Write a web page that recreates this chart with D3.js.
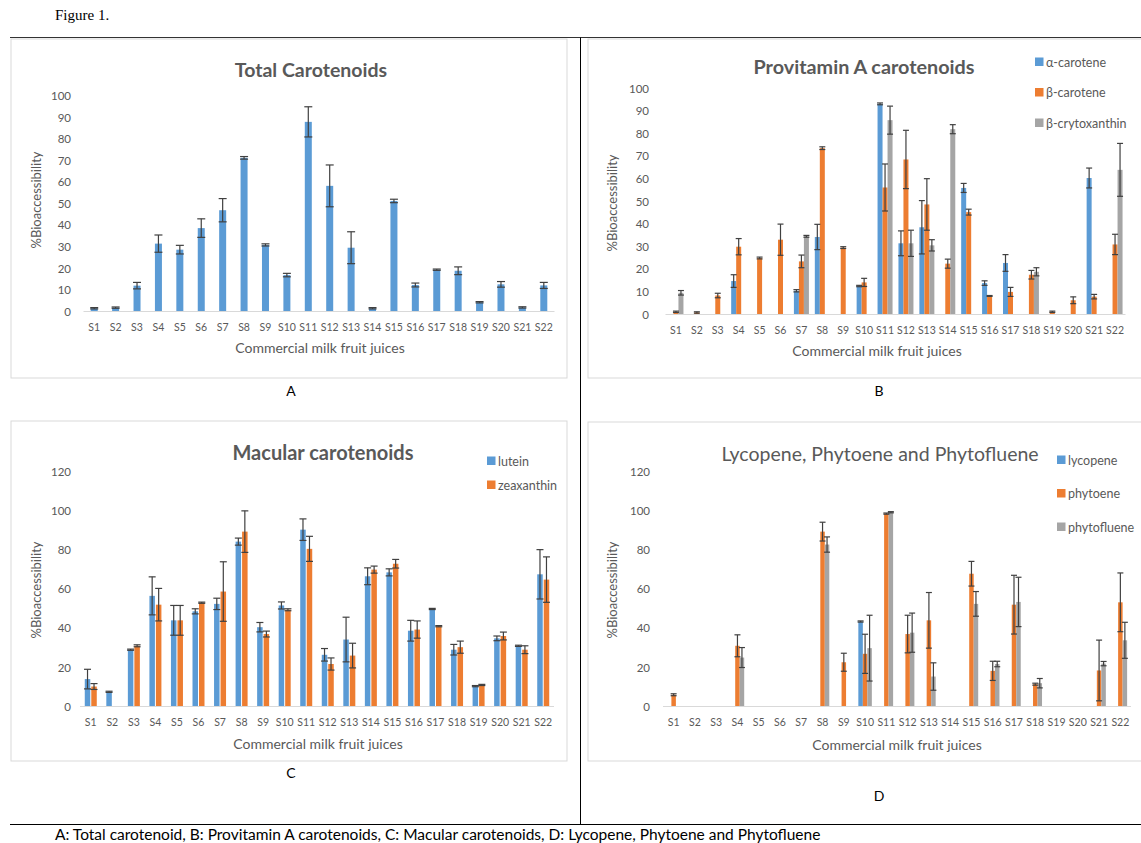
<!DOCTYPE html>
<html>
<head>
<meta charset="utf-8">
<script src="https://cdn.jsdelivr.net/npm/d3@7"></script>
<style>
    body { margin: 0; background: #fff; }
    svg { display: block; font-family: Lato, "Open Sans", sans-serif; }
</style>
</head>
<body>
<svg id="fig" width="1141" height="843"></svg>
<script>
var categories = ["S1","S2","S3","S4","S5","S6","S7","S8","S9","S10","S11","S12","S13","S14","S15","S16","S17","S18","S19","S20","S21","S22"];

// A: total carotenoids
var totalValues = [1.5, 1.8, 12, 31.5, 28.7, 38.7, 47, 71.3, 30.9, 16.9, 88, 58.3, 29.6, 1.5, 51.3, 12.3, 19.4, 18.9, 4.3, 12.6, 1.9, 12.1];
var totalErrors = [0.3, 0.3, 1.5, 4, 2, 4.3, 5.4, 0.6, 0.5, 0.8, 7, 9.7, 7.4, 0.3, 0.8, 0.9, 0.3, 1.8, 0.3, 1.3, 0.3, 1.4];

// B: provitamin A
var alphaValues = [0, 0, 0, 14.8, 0, 0, 10.5, 34.3, 0, 12.6, 93.2, 31.5, 38.6, 0, 56, 13.9, 22.8, 0, 0, 0, 60.4, 0];
var alphaErrors = [0, 0, 0, 2.8, 0, 0, 0.5, 5.6, 0, 0.3, 0.4, 5.5, 11.8, 0, 2, 1, 3.7, 0, 0, 0, 4.4, 0];
var betaValues = [1.2, 0.9, 8.4, 30, 25, 33.1, 23.5, 73.6, 29.6, 14.2, 56.2, 68.6, 48.7, 22.5, 45.3, 8.2, 10, 17.6, 1.2, 6.3, 7.9, 31];
var betaErrors = [0.3, 0.3, 1, 3.6, 0.4, 6.9, 2.8, 0.6, 0.4, 1.8, 10.4, 12.9, 11.4, 2, 1.3, 0.2, 2, 1.9, 0.3, 1.5, 1, 4.5];
var cryptoValues = [9.6, 0, 0, 0, 0, 0, 34.6, 0, 0, 0, 86, 31.5, 30.6, 82, 0, 0, 0, 18.9, 0, 0, 0, 64];
var cryptoErrors = [1, 0, 0, 0, 0, 0, 0.4, 0, 0, 0, 6.2, 5.8, 2.5, 2, 0, 0, 0, 1.8, 0, 0, 0, 11.7];

// C: macular
var luteinValues = [14, 7.5, 29, 56.5, 44, 48.6, 52.4, 84.2, 40.5, 51.6, 90.3, 26.4, 34.2, 66.5, 68.5, 38.7, 49.8, 29, 10.4, 34.8, 31, 67.5];
var luteinErrors = [5, 0.3, 0.3, 9.7, 7.6, 1.3, 2.9, 1.8, 2.4, 1.8, 5.5, 3.2, 11.4, 4.3, 1.8, 5.3, 0.3, 2.7, 0.3, 1.2, 0.3, 12.6];
var zeaValues = [10.2, 0, 31, 52, 44, 53, 58.7, 89.3, 37, 49.4, 80.5, 21.7, 26, 69.9, 72.9, 39.3, 41, 30.3, 11, 36, 29, 64.8];
var zeaErrors = [1.5, 0, 0.5, 8.3, 7.6, 0.3, 15.2, 10.6, 1.5, 0.5, 6.4, 3.1, 6.3, 1.8, 2.2, 4.4, 0.3, 3.1, 0.3, 2, 2, 11.6];

// D: lycopene, phytoene, phytofluene
var lycoValues = [0, 0, 0, 0, 0, 0, 0, 0, 0, 43.4, 0, 0, 0, 0, 0, 0, 0, 0, 0, 0, 0, 0];
var lycoErrors = [0, 0, 0, 0, 0, 0, 0, 0, 0, 0.3, 0, 0, 0, 0, 0, 0, 0, 0, 0, 0, 0, 0];
var phytoeneValues = [6, 0, 0, 31, 0, 0, 0, 89.3, 22.6, 26.9, 98.5, 37, 44, 0, 67.8, 18.2, 52, 11.4, 0, 0, 18.4, 53.2];
var phytoeneErrors = [0.5, 0, 0, 5.6, 0, 0, 0, 4.8, 4.6, 10, 0.3, 9.6, 14.2, 0, 6.3, 4.9, 15, 0.5, 0, 0, 15.5, 15];
var phytoflueneValues = [0, 0, 0, 25, 0, 0, 0, 82.7, 0, 29.8, 99.2, 37.7, 15.3, 0, 52.4, 21.7, 53.4, 11.9, 0, 0, 21.9, 33.8];
var phytoflueneErrors = [0, 0, 0, 5.1, 0, 0, 0, 3.9, 0, 16.8, 0.3, 10, 7, 0, 6.3, 1.4, 12.6, 2.4, 0, 0, 1.1, 9.2];

var ticks100 = [0, 10, 20, 30, 40, 50, 60, 70, 80, 90, 100];
var ticks120 = [0, 20, 40, 60, 80, 100, 120];

var blue = "#5B9BD5", orange = "#ED7D31", grey = "#A5A5A5", textColor = "#595959";

var svg = d3.select("#fig");

function drawPanel(cfg) {
    var g = svg.append("g");

    // chart area border
    g.append("rect")
        .attr("x", cfg.box[0]).attr("y", cfg.box[1])
        .attr("width", cfg.box[2]).attr("height", cfg.box[3])
        .attr("fill", "none").attr("stroke", "#D9D9D9");

    var x = d3.scaleBand().domain(categories).range([cfg.x0, cfg.x1]);
    var y = d3.scaleLinear().domain([0, d3.max(cfg.ticks)]).range([cfg.yBase, cfg.yTop]);
    var names = cfg.series.map(function (s) { return s.name; });
    var groupWidth = cfg.barWidth * names.length + cfg.gap * (names.length - 1);
    var x1 = d3.scaleBand().domain(names)
        .range([-groupWidth / 2, groupWidth / 2])
        .paddingInner(names.length > 1 ? cfg.gap / (cfg.barWidth + cfg.gap) : 0);

    // y axis
    var yAxis = g.append("g")
        .attr("transform", "translate(" + cfg.yLabelX + ",0)")
        .call(d3.axisLeft(y).tickValues(cfg.ticks).tickSize(0).tickPadding(0));
    yAxis.select(".domain").remove();
    yAxis.selectAll("text")
        .attr("fill", textColor)
        .style("font-size", "11.5px")
        .style("font-family", "Lato, sans-serif");

    // bars
    cfg.series.forEach(function (s) {
        var rows = categories.map(function (c, i) {
            return { cat: c, value: s.values[i], err: s.errors[i] };
        });
        var barG = g.append("g");
        barG.selectAll("rect")
            .data(rows.filter(function (d) { return d.value > 0; }))
            .enter()
            .append("rect")
            .attr("x", function (d) { return x(d.cat) + x.bandwidth() / 2 + x1(s.name); })
            .attr("y", function (d) { return y(d.value); })
            .attr("width", x1.bandwidth())
            .attr("height", function (d) { return y(0) - y(d.value); })
            .attr("fill", s.color);
        s.rows = rows;
    });

    // baseline
    g.append("line")
        .attr("x1", cfg.x0).attr("x2", cfg.x1)
        .attr("y1", y(0)).attr("y2", y(0))
        .attr("stroke", "#D9D9D9").attr("stroke-width", 1);

    // error bars
    cfg.series.forEach(function (s) {
        var errG = g.append("g").attr("stroke", "#404040").attr("stroke-width", 1.2);
        var withErr = s.rows.filter(function (d) { return d.err > 0; });
        var cx = function (d) { return x(d.cat) + x.bandwidth() / 2 + x1(s.name) + x1.bandwidth() / 2; };
        var cap = cfg.cap / 2;
        errG.selectAll(".stem").data(withErr).enter().append("line")
            .attr("x1", cx).attr("x2", cx)
            .attr("y1", function (d) { return y(d.value + d.err); })
            .attr("y2", function (d) { return y(Math.max(0, d.value - d.err)); });
        errG.selectAll(".capTop").data(withErr).enter().append("line")
            .attr("x1", function (d) { return cx(d) - cap; })
            .attr("x2", function (d) { return cx(d) + cap; })
            .attr("y1", function (d) { return y(d.value + d.err); })
            .attr("y2", function (d) { return y(d.value + d.err); });
        errG.selectAll(".capBottom").data(withErr).enter().append("line")
            .attr("x1", function (d) { return cx(d) - cap; })
            .attr("x2", function (d) { return cx(d) + cap; })
            .attr("y1", function (d) { return y(Math.max(0, d.value - d.err)); })
            .attr("y2", function (d) { return y(Math.max(0, d.value - d.err)); });
    });

    // category labels
    g.append("g").selectAll("text")
        .data(categories).enter()
        .append("text")
        .attr("x", function (d) { return x(d) + x.bandwidth() / 2; })
        .attr("y", cfg.catY)
        .attr("text-anchor", "middle")
        .attr("fill", textColor)
        .style("font-size", "10.5px")
        .text(function (d) { return d; });

    // titles
    g.append("text")
        .attr("x", cfg.title[0]).attr("y", cfg.title[1])
        .attr("text-anchor", "middle")
        .attr("fill", textColor)
        .style("font-size", cfg.titleSize + "px")
        .style("font-weight", cfg.titleBold ? "bold" : "normal")
        .text(cfg.titleText);
    g.append("text")
        .attr("x", cfg.xTitle[0]).attr("y", cfg.xTitle[1])
        .attr("text-anchor", "middle")
        .attr("fill", textColor)
        .style("font-size", "14px")
        .text("Commercial milk fruit juices");
    g.append("text")
        .attr("transform", "translate(" + cfg.yTitle[0] + "," + cfg.yTitle[1] + ") rotate(-90)")
        .attr("text-anchor", "middle")
        .attr("fill", textColor)
        .style("font-size", "13px")
        .text("%Bioaccessibility");

    // legend
    if (cfg.legend) {
        cfg.series.forEach(function (s, i) {
            var ly = cfg.legend[1] + i * cfg.legend[2];
            g.append("rect")
                .attr("x", cfg.legend[0]).attr("y", ly - 4.5)
                .attr("width", 8.5).attr("height", 8.5)
                .attr("fill", s.color);
            g.append("text")
                .attr("x", cfg.legend[0] + 11).attr("y", ly + 4.5)
                .attr("fill", textColor)
                .style("font-size", "12.5px")
                .text(s.name);
        });
    }

    // panel letter
    g.append("text")
        .attr("x", cfg.letter[0]).attr("y", cfg.letter[1])
        .attr("text-anchor", "middle")
        .attr("fill", "#000")
        .style("font-size", "14px")
        .text(cfg.letterText);
}

drawPanel({
    box: [11, 39, 556, 339], x0: 83.5, x1: 554.5, yBase: 311.5, yTop: 96, ticks: ticks100,
    yLabelX: 71, barWidth: 7, gap: 0, cap: 8, catY: 331,
    title: [311, 77], titleText: "Total Carotenoids", titleBold: true, titleSize: 19.5,
    xTitle: [320, 353], yTitle: [41, 200],
    letter: [291, 396], letterText: "A",
    series: [{ name: "total", values: totalValues, errors: totalErrors, color: blue }]
});

drawPanel({
    box: [588, 39, 560, 339], x0: 665.5, x1: 1125.5, yBase: 314.5, yTop: 88.5, ticks: ticks100,
    yLabelX: 649, barWidth: 5, gap: 0, cap: 6, catY: 334,
    title: [864, 74], titleText: "Provitamin A carotenoids", titleBold: true, titleSize: 19.8,
    xTitle: [877, 356], yTitle: [617, 203],
    letter: [879, 396], letterText: "B",
    legend: [1035, 62, 30.5],
    series: [
        { name: "α-carotene", values: alphaValues, errors: alphaErrors, color: blue },
        { name: "β-carotene", values: betaValues, errors: betaErrors, color: orange },
        { name: "β-crytoxanthin", values: cryptoValues, errors: cryptoErrors, color: grey }
    ]
});

drawPanel({
    box: [11, 421, 556, 340], x0: 80, x1: 554, yBase: 706.5, yTop: 471.5, ticks: ticks120,
    yLabelX: 71, barWidth: 5.5, gap: 1, cap: 7, catY: 726,
    title: [323, 460], titleText: "Macular carotenoids", titleBold: true, titleSize: 20,
    xTitle: [318, 749], yTitle: [41, 590],
    letter: [291, 778], letterText: "C",
    legend: [487, 461, 24],
    series: [
        { name: "lutein", values: luteinValues, errors: luteinErrors, color: blue },
        { name: "zeaxanthin", values: zeaValues, errors: zeaErrors, color: orange }
    ]
});

drawPanel({
    box: [588, 422, 560, 339], x0: 663, x1: 1131, yBase: 706.5, yTop: 471.5, ticks: ticks120,
    yLabelX: 650, barWidth: 4.5, gap: 0, cap: 6, catY: 726,
    title: [880, 461], titleText: "Lycopene, Phytoene and Phytofluene", titleBold: false, titleSize: 19.5,
    xTitle: [897, 750], yTitle: [617, 590],
    letter: [879, 801], letterText: "D",
    legend: [1057, 460, 33.5],
    series: [
        { name: "lycopene", values: lycoValues, errors: lycoErrors, color: blue },
        { name: "phytoene", values: phytoeneValues, errors: phytoeneErrors, color: orange },
        { name: "phytofluene", values: phytoflueneValues, errors: phytoflueneErrors, color: grey }
    ]
});

// page frame lines
svg.append("line").attr("x1", 10).attr("x2", 1141).attr("y1", 37.5).attr("y2", 37.5)
    .attr("stroke", "#333").attr("stroke-width", 1);
svg.append("line").attr("x1", 580.5).attr("x2", 580.5).attr("y1", 37.5).attr("y2", 824.5)
    .attr("stroke", "#000").attr("stroke-width", 1);
svg.append("line").attr("x1", 10).attr("x2", 1141).attr("y1", 824.5).attr("y2", 824.5)
    .attr("stroke", "#000").attr("stroke-width", 1);

svg.append("text")
    .attr("x", 55).attr("y", 20)
    .style("font-family", "'Liberation Serif', 'Times New Roman', serif")
    .style("font-size", "15px")
    .text("Figure 1.");

svg.append("text")
    .attr("x", 55).attr("y", 840)
    .style("font-size", "15.5px")
    .attr("fill", "#000")
    .text("A: Total carotenoid, B: Provitamin A carotenoids, C: Macular carotenoids, D: Lycopene, Phytoene and Phytofluene");
</script>
</body>
</html>
